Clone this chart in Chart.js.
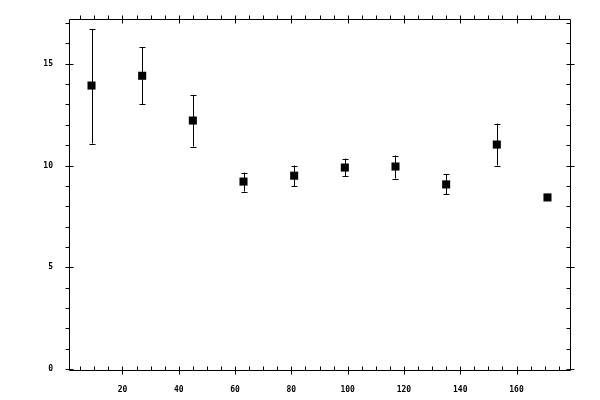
<!DOCTYPE html>
<html>
<head>
<meta charset="utf-8">
<script src="https://cdn.jsdelivr.net/npm/chart.js@4"></script>
<style>
  html, body { margin: 0; padding: 0; background: #fff; }
  #wrap { width: 600px; height: 400px; }
</style>
</head>
<body>
<div id="wrap"><canvas id="errChart"></canvas></div>
<script>
// data
const xValues = [9, 27, 45, 63, 81, 99, 117, 135, 153, 171];
const yValues = [13.93, 14.41, 12.21, 9.21, 9.50, 9.90, 9.95, 9.07, 11.03, 8.43];
const yErrLow = [11.08, 13.0, 10.93, 8.72, 8.97, 9.46, 9.36, 8.58, 10.0, null];
const yErrHigh = [16.7, 15.82, 13.47, 9.65, 10.0, 10.34, 10.49, 9.56, 12.06, null];

// tick labels
const xTickValues = [20, 40, 60, 80, 100, 120, 140, 160];
const yTickValues = [0, 5, 10, 15];
const xMinorStep = 5;
const yMinorStep = 1;

const points = xValues.map((x, i) => ({ x: x, y: yValues[i] }));

// error bars, drawn through the scales
const errorBars = {
  id: 'errorBars',
  afterDatasetsDraw(chart) {
    const ctx = chart.ctx;
    const xs = chart.scales.x, ys = chart.scales.y;
    ctx.save();
    ctx.strokeStyle = '#000';
    ctx.lineWidth = 1;
    xValues.forEach((x, i) => {
      if (yErrLow[i] == null) return;
      const px = Math.round(xs.getPixelForValue(x)) + 0.5;
      const lo = ys.getPixelForValue(yErrLow[i]);
      const hi = ys.getPixelForValue(yErrHigh[i]);
      ctx.beginPath();
      ctx.moveTo(px, lo); ctx.lineTo(px, hi);
      ctx.moveTo(px - 3, Math.round(lo) + 0.5); ctx.lineTo(px + 3, Math.round(lo) + 0.5);
      ctx.moveTo(px - 3, Math.round(hi) + 0.5); ctx.lineTo(px + 3, Math.round(hi) + 0.5);
      ctx.stroke();
    });
    ctx.restore();
  }
};

// box frame with major/minor ticks on all four sides
const frameTicks = {
  id: 'frameTicks',
  afterDraw(chart) {
    const ctx = chart.ctx;
    const a = chart.chartArea;
    const xs = chart.scales.x, ys = chart.scales.y;
    const L = Math.round(a.left) + 0.5, R = Math.round(a.right) + 0.5;
    const T = Math.round(a.top) + 0.5, B = Math.round(a.bottom) + 0.5;
    ctx.save();
    ctx.strokeStyle = '#000';
    ctx.lineWidth = 1;
    ctx.beginPath();
    ctx.rect(L, T, R - L, B - T);

    for (let v = xMinorStep; v < xs.max; v += xMinorStep) {
      const p = Math.round(xs.getPixelForValue(v)) + 0.5;
      if (xTickValues.includes(v)) {
        ctx.moveTo(p, B - 4); ctx.lineTo(p, B + 4);
        ctx.moveTo(p, T - 4); ctx.lineTo(p, T + 4);
      } else {
        ctx.moveTo(p, B); ctx.lineTo(p, B - 4);
        ctx.moveTo(p, T); ctx.lineTo(p, T - 4);
      }
    }
    for (let v = 0; v < ys.max; v += yMinorStep) {
      const p = Math.round(ys.getPixelForValue(v)) + 0.5;
      if (yTickValues.includes(v)) {
        ctx.moveTo(L - 4, p); ctx.lineTo(L + 4, p);
        ctx.moveTo(R - 4, p); ctx.lineTo(R + 4, p);
      } else {
        ctx.moveTo(L, p); ctx.lineTo(L - 4, p);
        ctx.moveTo(R, p); ctx.lineTo(R - 4, p);
      }
    }
    ctx.stroke();
    ctx.restore();
  }
};

const tickFont = { family: 'DejaVu Sans Mono', size: 8, weight: 'bold' };

new Chart(document.getElementById('errChart'), {
  type: 'scatter',
  data: {
    datasets: [{
      data: points,
      pointStyle: 'rect',
      pointRadius: 5.7,
      pointHoverRadius: 5.7,
      backgroundColor: '#000',
      borderColor: '#000',
      borderWidth: 0
    }]
  },
  options: {
    responsive: true,
    maintainAspectRatio: false,
    animation: false,
    events: [],
    layout: { padding: { left: 0, right: 30, top: 19, bottom: 0 } },
    plugins: { legend: { display: false }, tooltip: { enabled: false } },
    scales: {
      x: {
        type: 'linear',
        min: 1,
        max: 179,
        grid: { display: false },
        border: { display: false },
        afterBuildTicks: s => { s.ticks = xTickValues.map(v => ({ value: v })); },
        afterFit: s => { s.height = 30; },
        ticks: { color: '#000', font: tickFont, padding: 7, maxRotation: 0 }
      },
      y: {
        type: 'linear',
        min: -0.05,
        max: 17.2,
        grid: { display: false },
        border: { display: false },
        afterBuildTicks: s => { s.ticks = yTickValues.map(v => ({ value: v })); },
        afterFit: s => { s.width = 69; },
        ticks: { color: '#000', font: tickFont, padding: 8 }
      }
    }
  },
  plugins: [errorBars, frameTicks]
});
</script>
</body>
</html>
